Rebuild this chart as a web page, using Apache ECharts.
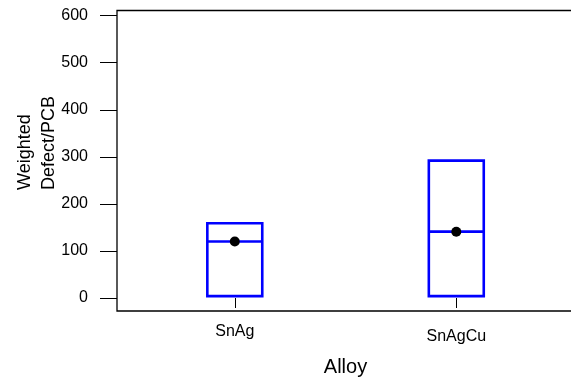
<!DOCTYPE html>
<html><head><meta charset="utf-8">
<script src="https://cdn.jsdelivr.net/npm/echarts@6/dist/echarts.min.js"></script>
<style>html,body{margin:0;padding:0;background:#fff}#c{width:571px;height:379px}</style>
</head><body><div id="c"></div>
<script>
const categories = ['SnAg', 'SnAgCu'];
const catPos = [1, 2];
const q1 = [4, 4];
const median = [120, 141];
const q3 = [159, 292];
const mean = [120, 141];
const yTicks = [0, 100, 200, 300, 400, 500, 600];
const xTitle = 'Alloy';
const yTitle = 'Weighted\nDefect/PCB';

const FONT = "'Liberation Sans', Arial, sans-serif";
const BOX_W = 0.248;

const chart = echarts.init(document.getElementById('c'), null, {renderer: 'canvas'});
const boxData = catPos.map((p, i) => [p, q1[i], median[i], q3[i]]);
const meanData = catPos.map((p, i) => [p, mean[i]]);

chart.setOption({
  animation: false,
  backgroundColor: '#fff',
  grid: {left: 117, right: -10, top: 10.5, bottom: 68, outerBoundsMode: 'none', containLabel: false,
    show: true, borderColor: '#000', borderWidth: 1.3, backgroundColor: 'transparent'},
  xAxis: {
    type: 'value', min: 0.4682, max: 2.5630,
    axisLine: {show: false},
    splitLine: {show: false},
    axisTick: {show: true, length: 10, customValues: catPos, lineStyle: {color: '#000', width: 1}},
    axisLabel: {
      customValues: catPos, margin: 13, color: '#000', fontFamily: FONT, fontSize: 16,
      formatter: v => { const i = catPos.indexOf(v); return i % 2 === 0 ? '{a|' + categories[i] + '}' : '{b|' + categories[i] + '}'; },
      rich: {a: {fontFamily: FONT, fontSize: 16, color: '#000'}, b: {fontFamily: FONT, fontSize: 16, color: '#000', padding: [5, 0, 0, 0]}}
    },
    name: xTitle, nameLocation: 'middle', nameGap: 46,
    nameTextStyle: {fontFamily: FONT, fontSize: 20, color: '#000', padding: [0, 7, 0, 0]}
  },
  yAxis: {
    type: 'value', min: -27.6, max: 611,
    axisLine: {show: false},
    splitLine: {show: false},
    axisTick: {show: true, length: 17, customValues: yTicks, lineStyle: {color: '#000', width: 1}},
    axisLabel: {customValues: yTicks, margin: 29, color: '#000', fontFamily: FONT, fontSize: 16}
  },
  graphic: [{
    type: 'text', x: 37, y: 190, rotation: Math.PI / 2, z: 100,
    style: {text: yTitle, font: '18px ' + FONT, fill: '#000', textAlign: 'left', textVerticalAlign: 'middle', lineHeight: 24}
  }],
  series: [{
    type: 'custom',
    data: boxData,
    encode: {x: 0, y: [1, 2, 3]},
    renderItem: (params, api) => {
      const x = api.value(0);
      const lo = api.coord([x - BOX_W / 2, api.value(1)]);
      const hi = api.coord([x + BOX_W / 2, api.value(3)]);
      const med = api.coord([x, api.value(2)]);
      const style = {stroke: '#0000ff', lineWidth: 2.6, fill: null};
      return {type: 'group', children: [
        {type: 'rect', shape: {x: lo[0], y: hi[1], width: hi[0] - lo[0], height: lo[1] - hi[1]}, style: style},
        {type: 'line', shape: {x1: lo[0], y1: med[1], x2: hi[0], y2: med[1]}, style: style}
      ]};
    }
  }, {
    type: 'scatter',
    data: meanData,
    symbol: 'circle', symbolSize: 10,
    itemStyle: {color: '#000', opacity: 1},
    z: 5
  }]
});
</script></body></html>
